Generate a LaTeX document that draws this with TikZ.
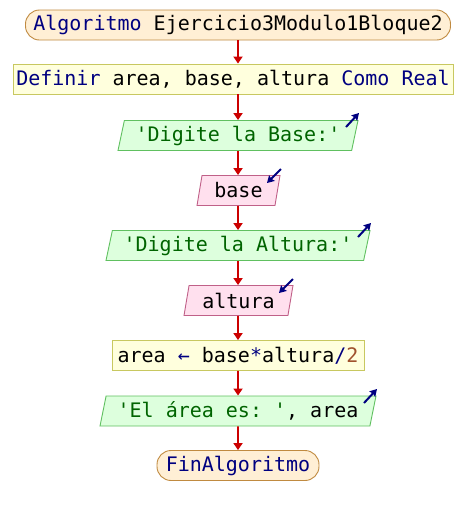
\documentclass[tikz,border=0pt]{standalone}
\usepackage{fontspec}
\setmonofont{DejaVu Sans Mono}
\usetikzlibrary{shapes.geometric,arrows.meta}
\definecolor{kw}{HTML}{000080}
\definecolor{str}{HTML}{006400}
\definecolor{num}{HTML}{A0522D}
\definecolor{flow}{HTML}{CC0000}
\definecolor{termfill}{HTML}{FFEFD5}
\definecolor{termline}{HTML}{C08A40}
\definecolor{procfill}{HTML}{FFFFDD}
\definecolor{procline}{HTML}{C8C860}
\definecolor{outfill}{HTML}{DDFFDD}
\definecolor{outline}{HTML}{60C060}
\definecolor{infill}{HTML}{FFE0EE}
\definecolor{inline}{HTML}{C06088}
\newcommand{\kwd}[1]{\textcolor{kw}{#1}}
\newcommand{\str}[1]{\textcolor{str}{#1}}
\newcommand{\nmb}[1]{\textcolor{num}{#1}}
\begin{document}
\begin{tikzpicture}[x=1pt,y=-1pt,
  every node/.style={font=\ttfamily\fontsize{20}{24}\selectfont, inner sep=0pt},
  term/.style={draw=termline, fill=termfill, line width=0.9pt, rounded corners=14pt,
    minimum height=30pt},
  proc/.style={draw=procline, fill=procfill, line width=0.9pt, minimum height=30pt},
  iobody/.style={trapezium, trapezium left angle=72, trapezium right angle=108,
    trapezium stretches body, line width=0.9pt, minimum height=30pt},
  outbox/.style={iobody, draw=outline, fill=outfill},
  inbox/.style={iobody, draw=inline, fill=infill},
  flowline/.style={draw=flow, line width=1.8pt, -{Triangle[length=7pt,width=9pt]}},
  ioicon/.style={draw=kw, line width=2pt, -{Stealth[length=7pt,width=8pt,inset=1pt]}}
]
\useasboundingbox (0,0) rectangle (476,515);

\node[term, minimum width=425pt] (start) at (238,25) {\kwd{Algoritmo} Ejercicio3Modulo1Bloque2};
\node[proc, minimum width=440pt] (def) at (233,79) {\kwd{Definir} area, base, altura \kwd{Como Real}};
\node[outbox, minimum width=240pt] (out1) at (238,135.5) {\str{'Digite la Base:'}};
\node[inbox, minimum width=83pt] (in1) at (238.5,190.5) {base};
\node[outbox, minimum width=264pt] (out2) at (238,245.5) {\str{'Digite la Altura:'}};
\node[inbox, minimum width=109pt] (in2) at (238.5,300.5) {altura};
\node[proc, minimum width=252pt] (asg) at (238,355.5) {area \kwd{←} base\kwd{*}altura\kwd{/}\nmb{2}};
\node[outbox, minimum width=276pt] (out3) at (238,411) {\str{'El área es: '}, area};
\node[term, minimum width=162pt] (fin) at (238,465.5) {\kwd{FinAlgoritmo}};

% flow connectors
\draw[flowline] (start.south) -- (start.south |- def.north);
\draw[flowline] (def.south -| out1.north) -- (out1.north);
\draw[flowline] (out1.south) -- (in1.north -| out1.south);
\draw[flowline] (in1.south -| out1.south) -- (out2.north);
\draw[flowline] (out2.south) -- (in2.north -| out2.south);
\draw[flowline] (in2.south -| out2.south) -- (asg.north);
\draw[flowline] (asg.south) -- (out3.north);
\draw[flowline] (out3.south) -- (fin.north);

% output / input markers
\coordinate (o1a) at (346,127); \coordinate (o1b) at (359,113);
\coordinate (o2a) at (358,237); \coordinate (o2b) at (371,223);
\coordinate (o3a) at (364,403); \coordinate (o3b) at (377,389);
\coordinate (i1a) at (281,169); \coordinate (i1b) at (267,183);
\coordinate (i2a) at (293,279); \coordinate (i2b) at (279,293);
\draw[ioicon] (o1a) -- (o1b);
\draw[ioicon] (o2a) -- (o2b);
\draw[ioicon] (o3a) -- (o3b);
\draw[ioicon] (i1a) -- (i1b);
\draw[ioicon] (i2a) -- (i2b);
\end{tikzpicture}
\end{document}
